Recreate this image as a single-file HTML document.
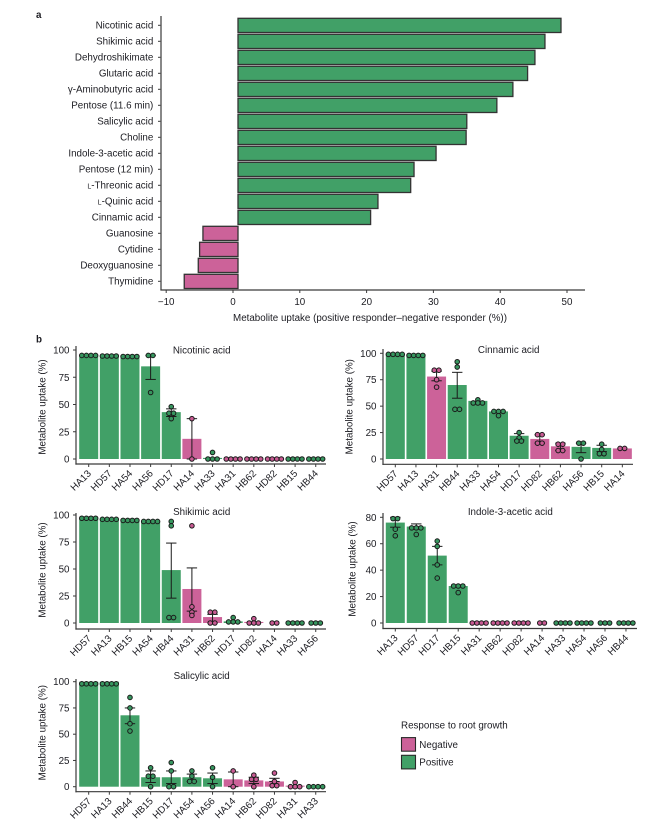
<!DOCTYPE html>
<html lang="en">
<head>
<meta charset="utf-8">
<title>Metabolite uptake</title>
<style>
html,body{margin:0;padding:0;background:#fff;width:669px;height:825px;overflow:hidden}
svg{display:block}
text{font-family:"Liberation Sans",Arial,sans-serif;fill:#1c1c22;font-size:9.8px}
</style>
</head>
<body>
<svg id="fig" xmlns="http://www.w3.org/2000/svg" width="669" height="825" viewBox="0 0 669 825"></svg>
<script>
// Panel a data
const summaryMetabolites = ["Nicotinic acid","Shikimic acid","Dehydroshikimate","Glutaric acid","γ-Aminobutyric acid","Pentose (11.6 min)","Salicylic acid","Choline","Indole-3-acetic acid","Pentose (12 min)","L-Threonic acid","L-Quinic acid","Cinnamic acid","Guanosine","Cytidine","Deoxyguanosine","Thymidine"];
const summaryValues = [49.1,46.7,45.2,44.1,41.9,39.5,35.0,34.9,30.4,27.1,26.6,21.7,20.6,-4.5,-5.0,-5.2,-7.3];
const summaryTicks = [-10,0,10,20,30,40,50];

// Panel b data
const percentTicks = [0,25,50,75,100];
const indoleTicks = [0,20,40,60,80];

const nicotinicStrains = ["HA13","HD57","HA54","HA56","HD17","HA14","HA33","HA31","HB62","HD82","HB15","HB44"];
const nicotinicResponse = ["P","P","P","P","P","N","P","N","N","N","P","P"];
const nicotinicMeans = [95,94.5,94,85,43,18.5,1,0,0,0,0,0];
const nicotinicErrLow = [null,null,null,73,39,0,null,null,null,null,null,null];
const nicotinicErrHigh = [null,null,null,95,46,37,null,null,null,null,null,null];
const nicotinicDots = [[95,95,95,95],[94.5,94.5,94.5,94.5],[94,94,94,94],[95,95,61],[48,42,42,37],[37,0],[6,0,0,0],[0,0,0,0],[0,0,0,0],[0,0,0,0],[0,0,0,0],[0,0,0,0]];

const cinnamicStrains = ["HD57","HA13","HA31","HB44","HA33","HA54","HD17","HD82","HB62","HA56","HB15","HA14"];
const cinnamicResponse = ["P","P","N","P","P","P","P","N","N","P","P","N"];
const cinnamicMeans = [99.5,98.5,78,70,55,45,22,19,12,11.5,10.5,10];
const cinnamicErrLow = [null,null,74,57.5,null,null,18,15,8,6,7,null];
const cinnamicErrHigh = [null,null,83,82,null,null,24,23,15,15,13,null];
const cinnamicDots = [[99,99,99,99],[98,98,98,98],[84,84,75,68],[92,87,47,47],[56,53,53,53],[45,45,45,41],[25,20,17,17],[23,23,15,15],[14,14,8,8],[15,15,0],[14,9,5,5],[10,10]];

const shikimicStrains = ["HD57","HA13","HB15","HA54","HB44","HA31","HB62","HD17","HD82","HA14","HA33","HA56"];
const shikimicResponse = ["P","P","P","P","P","N","N","P","N","N","P","P"];
const shikimicMeans = [97,96,95,94,49,31.5,5.5,1.5,1,0,0,0];
const shikimicErrLow = [null,null,null,null,23,11,0,null,null,null,null,null];
const shikimicErrHigh = [null,null,null,null,74,51,8,null,null,null,null,null];
const shikimicDots = [[97,97,97,97],[96,96,96,96],[95,95,95,95],[94,94,94,94],[94,90,5,5],[90,15,10,7],[10,10,0,0],[5,1,1,1],[4,0,0,0],[0,0],[0,0,0,0],[0,0,0]];

const indoleStrains = ["HA13","HD57","HD17","HB15","HA31","HB62","HD82","HA14","HA33","HA54","HA56","HB44"];
const indoleResponse = ["P","P","P","P","N","N","N","N","P","P","P","P"];
const indoleMeans = [76,73,51,28,0,0,0,0,0,0,0,0];
const indoleErrLow = [72.5,71,44,null,null,null,null,null,null,null,null,null];
const indoleErrHigh = [80,75,58,null,null,null,null,null,null,null,null,null];
const indoleDots = [[79,79,71,66],[72,72,72,67],[62,58,44,34],[28,28,28,23],[0,0,0,0],[0,0,0,0],[0,0,0,0],[0,0],[0,0,0,0],[0,0,0,0],[0,0,0],[0,0,0,0]];

const salicylicStrains = ["HD57","HA13","HB44","HB15","HD17","HA54","HA56","HA14","HB62","HD82","HA31","HA33"];
const salicylicResponse = ["P","P","P","P","P","P","P","N","N","N","N","P"];
const salicylicMeans = [100,100,68,9,9,9,8,7,6,5,1,0];
const salicylicErrLow = [null,null,60,4,3,5,3,0,3,null,null,null];
const salicylicErrHigh = [null,null,75,15,15,12,13,14,9,8,null,null];
const salicylicDots = [[98,98,98,98],[98,98,98,98],[85,75,60,53],[18,10,10,0],[23,15,0,0],[15,10,5,5],[18,9,0],[15,0],[11,7,7,0],[13,5,1,1],[4,0,0,0],[0,0,0,0]];

const legendLabels = ["Negative","Positive"];

const GREEN = "#41a067", PINK = "#cc6299", DOT_GREEN = "#37965f", DOT_PINK = "#c85a93", AXIS = "#3a3a3a";
const NS = "http://www.w3.org/2000/svg";
const fig = document.getElementById("fig");

function mk(tag, attrs, parent) {
  const e = document.createElementNS(NS, tag);
  for (const k in attrs) e.setAttribute(k, attrs[k]);
  (parent || fig).appendChild(e);
  return e;
}
function label(str, x, y, anchor, parent, extra) {
  const t = mk("text", Object.assign({x: x, y: y, "text-anchor": anchor}, extra || {}), parent);
  if (str.indexOf("L-") === 0) {
    const s = mk("tspan", {"font-size": "7px"}, t);
    s.textContent = "L";
    const r = mk("tspan", {}, t);
    r.textContent = str.slice(1);
  } else {
    t.textContent = str;
  }
  return t;
}
function line(x1, y1, x2, y2, stroke, w, parent) {
  return mk("line", {x1: x1, y1: y1, x2: x2, y2: y2, stroke: stroke, "stroke-width": w}, parent);
}

// Panel a
(function () {
  const g = mk("g", {});
  
  
  const xOf = v => 233 + 6.68 * v;
  const baseX = 238;
  const rowY = i => 25.3 + 16 * i;
  const pl = label("a", 36, 18, "start", g, {"font-weight": "bold"});
  
  
  summaryMetabolites.forEach((name, i) => {
    const v = summaryValues[i];
    const end = xOf(v);
    const r = mk("rect", {x: Math.min(baseX, end), y: rowY(i) - 7, width: Math.abs(end - baseX), height: 14.2,
      fill: v >= 0 ? GREEN : PINK, stroke: "#333", "stroke-width": 1.3}, g);
    
    
    const tick = line(158, rowY(i), 161, rowY(i), AXIS, 1, g);
    
    
    const t = label(name, 153.3, rowY(i) + 3.4, "end", g);
    
    
  });
  const ya = line(161, 16, 161, 290.5, "#555", 1.4, g);
  
  
  const xa = line(160.5, 290, 585, 290, AXIS, 1.2, g);
  
  
  summaryTicks.forEach(v => {
    const tick = line(xOf(v), 290, xOf(v), 293, AXIS, 1, g);
    
    
    const t = label(v < 0 ? "\u2212" + Math.abs(v) : String(v), xOf(v), 305, "middle", g);
    
    
  });
  const title = label("Metabolite uptake (positive responder\u2013negative responder (%))", 370, 321, "middle", g);
  
  
})();

// Panel b
function drawChart(c) {
  const g = mk("g", {});
  
  
  const yOf = v => c.y0 - (c.y0 - c.yTop) * v / c.yMax;
  const xOf = i => c.x0 + c.step * i;
  const barW = 19;

  c.strains.forEach((s, i) => {
    const h = c.y0 - yOf(c.means[i]);
    const r = mk("rect", {x: xOf(i) - barW / 2, y: yOf(c.means[i]), width: barW, height: Math.max(h, 0),
      fill: c.response[i] === "N" ? PINK : GREEN}, g);
    
    
  });

  c.strains.forEach((s, i) => {
    if (c.errLow[i] === null && c.errHigh[i] === null) return;
    const lo = c.errLow[i] === null ? c.means[i] : c.errLow[i];
    const hi = c.errHigh[i] === null ? c.means[i] : c.errHigh[i];
    const x = xOf(i);
    const eg = mk("g", {stroke: "#1a1a1a", "stroke-width": 1}, g);
    
    
    mk("line", {x1: x, y1: yOf(lo), x2: x, y2: yOf(hi)}, eg);
    mk("line", {x1: x - 5.2, y1: yOf(lo), x2: x + 5.2, y2: yOf(lo)}, eg);
    mk("line", {x1: x - 5.2, y1: yOf(hi), x2: x + 5.2, y2: yOf(hi)}, eg);
  });

  c.strains.forEach((s, i) => {
    const groups = new Map();
    c.dots[i].forEach(v => groups.set(v, (groups.get(v) || 0) + 1));
    groups.forEach((n, v) => {
      for (let k = 0; k < n; k++) {
        const dot = mk("circle", {cx: xOf(i) + (k - (n - 1) / 2) * 4.6, cy: yOf(v), r: 2.3,
          fill: c.response[i] === "N" ? DOT_PINK : DOT_GREEN, stroke: "#1a1a1a", "stroke-width": 1}, g);
        
        
      }
    });
  });

  const ya = line(c.left, c.axisTop, c.left, c.axisY + 0.6, AXIS, 1.2, g);
  
  
  const xa = line(c.left - 0.6, c.axisY, c.right, c.axisY, AXIS, 1.2, g);
  
  

  c.ticks.forEach(v => {
    const tick = line(c.left - 3, yOf(v), c.left, yOf(v), AXIS, 1, g);
    
    
    const t = label(String(v), c.left - 6.5, yOf(v) + 3.5, "end", g);
    
    
  });

  c.strains.forEach((s, i) => {
    const x = xOf(i);
    const tick = line(x, c.axisY, x, c.axisY + 3, AXIS, 1, g);
    
    
    const lx = x + 3, ly = c.axisY + 10;
    const t = label(s, lx, ly, "end", g, {transform: "rotate(-45 " + lx + " " + ly + ")"});
    
    
  });

  const yt = label("Metabolite uptake (%)", c.yTitleX, c.yTitleY, "middle", g, {transform: "rotate(-90 " + c.yTitleX + " " + c.yTitleY + ")"});
  
  
  const tt = label(c.title, c.titleX, c.titleY, "middle", g);
  
  
}

const panelB = mk("text", {x: 36, y: 342.5, "font-weight": "bold"});
panelB.textContent = "b";



drawChart({id: "nicotinic-acid", title: "Nicotinic acid", strains: nicotinicStrains, response: nicotinicResponse, means: nicotinicMeans, errLow: nicotinicErrLow, errHigh: nicotinicErrHigh, dots: nicotinicDots, ticks: percentTicks,
  yMax: 100, yTop: 350, y0: 459, axisY: 464, axisTop: 346, left: 76, right: 326, x0: 88.7, step: 20.64, yTitleX: 45.5, yTitleY: 407, titleX: 201.7, titleY: 353.3});
drawChart({id: "cinnamic-acid", title: "Cinnamic acid", strains: cinnamicStrains, response: cinnamicResponse, means: cinnamicMeans, errLow: cinnamicErrLow, errHigh: cinnamicErrHigh, dots: cinnamicDots, ticks: percentTicks,
  yMax: 100, yTop: 353.3, y0: 459, axisY: 464.3, axisTop: 349, left: 383, right: 633, x0: 395.3, step: 20.64, yTitleX: 352.3, yTitleY: 406.7, titleX: 508.7, titleY: 353});
drawChart({id: "shikimic-acid", title: "Shikimic acid", strains: shikimicStrains, response: shikimicResponse, means: shikimicMeans, errLow: shikimicErrLow, errHigh: shikimicErrHigh, dots: shikimicDots, ticks: percentTicks,
  yMax: 100, yTop: 515, y0: 623, axisY: 629, axisTop: 513, left: 76, right: 326, x0: 88.7, step: 20.64, yTitleX: 45.5, yTitleY: 570, titleX: 201.7, titleY: 515});
drawChart({id: "indole-3-acetic-acid", title: "Indole-3-acetic acid", strains: indoleStrains, response: indoleResponse, means: indoleMeans, errLow: indoleErrLow, errHigh: indoleErrHigh, dots: indoleDots, ticks: indoleTicks,
  yMax: 80, yTop: 517.3, y0: 623, axisY: 628.5, axisTop: 513, left: 383, right: 637, x0: 395.3, step: 20.97, yTitleX: 355.5, yTitleY: 569, titleX: 510.3, titleY: 515});
drawChart({id: "salicylic-acid", title: "Salicylic acid", strains: salicylicStrains, response: salicylicResponse, means: salicylicMeans, errLow: salicylicErrLow, errHigh: salicylicErrHigh, dots: salicylicDots, ticks: percentTicks,
  yMax: 100, yTop: 681.7, y0: 786.7, axisY: 791.7, axisTop: 679, left: 76, right: 326, x0: 88.7, step: 20.64, yTitleX: 45.5, yTitleY: 732.7, titleX: 201.7, titleY: 679});

// Legend
(function () {
  const g = mk("g", {});
  
  
  const t = label("Response to root growth", 401, 728.5, "start", g);
  
  
  legendLabels.forEach((name, i) => {
    const y = 737.6 + i * 17.7;
    const sw = mk("rect", {x: 401.5, y: y, width: 14, height: 13.6, fill: i === 0 ? PINK : GREEN, stroke: "#2a2a2a", "stroke-width": 1.1}, g);
    
    
    const l = label(name, 419.3, y + 10.2, "start", g);
    
    
  });
})();
</script>
</body>
</html>
